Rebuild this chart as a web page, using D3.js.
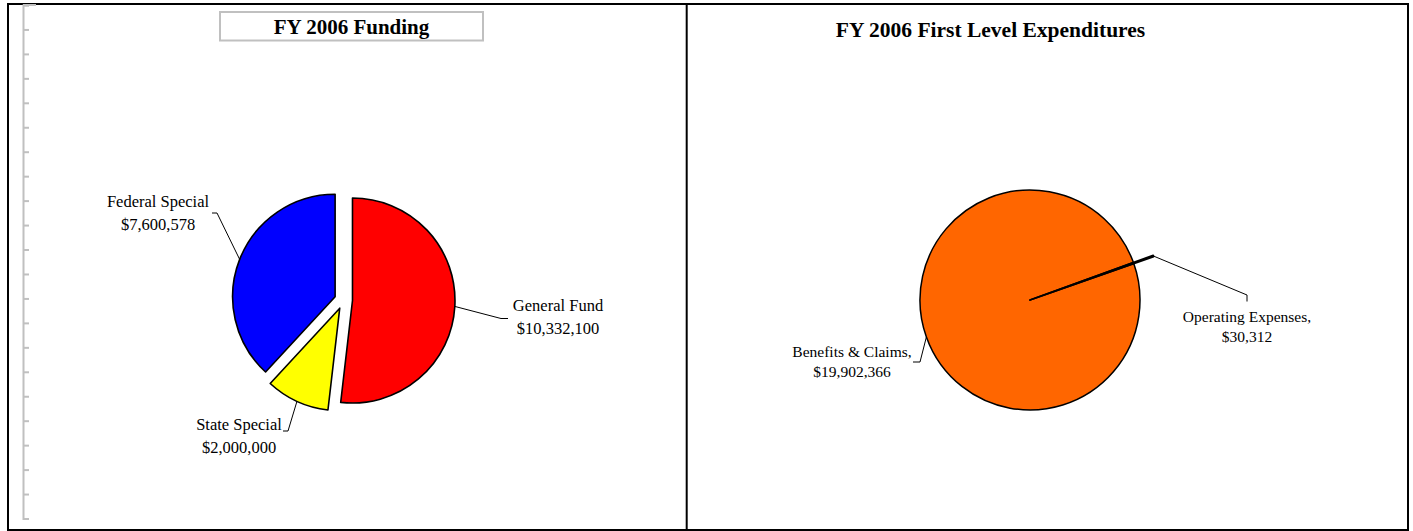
<!DOCTYPE html>
<html>
<head>
<meta charset="utf-8">
<script src="https://cdnjs.cloudflare.com/ajax/libs/d3/7.8.5/d3.min.js"></script>
<style>
  html, body { margin: 0; padding: 0; background: #fff; }
  svg { display: block; }
  text { font-family: "Liberation Serif", "Times New Roman", serif; fill: #000; }
</style>
</head>
<body>
<svg id="chart" width="1413" height="531"></svg>
<script>
// FY 2006 funding sources
const fundingNames  = ["General Fund", "State Special", "Federal Special"];
const fundingValues = [10332100, 2000000, 7600578];
const fundingColors = ["#FF0000", "#FFFF00", "#0000FF"];

// FY 2006 first level expenditures
const expenseNames  = ["Operating Expenses", "Benefits & Claims"];
const expenseValues = [30312, 19902366];
const expenseColors = ["#000000", "#FF6600"];

// gray ruler tick indexes along the left edge
const rulerTicks = d3.range(0, 22);

const fmt = d3.format("$,");
const svg = d3.select("#chart");
const deg = Math.PI / 180;

// ---- frame ----
svg.append("rect").attr("x", 8).attr("y", 4).attr("width", 1400).attr("height", 526)
  .attr("fill", "none").attr("stroke", "#000").attr("stroke-width", 2);
svg.append("line").attr("x1", 686.7).attr("x2", 686.7).attr("y1", 4).attr("y2", 530)
  .attr("stroke", "#000").attr("stroke-width", 2);

// ---- gray ruler at the left ----
const rulerY = d3.scaleLinear().domain([0, 21]).range([5, 518.5]);
const ruler = svg.append("g").attr("transform", "translate(23,0)")
  .call(d3.axisRight(rulerY).tickValues(rulerTicks).tickSize(6).tickSizeOuter(6).tickFormat(""));
ruler.selectAll("path, line").attr("stroke", "#c0c0c0").attr("stroke-width", 2);
svg.append("line").attr("x1", 23).attr("x2", 36).attr("y1", 5).attr("y2", 5)
  .attr("stroke", "#c0c0c0").attr("stroke-width", 2);

// ---- left chart: funding ----
svg.append("rect").attr("x", 220).attr("y", 12).attr("width", 263).attr("height", 28.5)
  .attr("fill", "#fff").attr("stroke", "#c0c0c0").attr("stroke-width", 2);
svg.append("text").attr("x", 351.5).attr("y", 34).attr("text-anchor", "middle")
  .attr("font-size", 21).attr("font-weight", "bold").text("FY 2006 Funding");

const fundCx = 343.5, fundCy = 300, fundR = 102.5, fundExplode = 9;
const fundPie = d3.pie().sort(null).value(d => d.value).startAngle(0).endAngle(2 * Math.PI);
const fundData = fundPie(fundingNames.map((n, i) => ({ name: n, value: fundingValues[i], color: fundingColors[i] })));
const fundArc = d3.arc().innerRadius(0).outerRadius(fundR);

const fundG = svg.append("g").attr("transform", `translate(${fundCx},${fundCy})`);
fundG.selectAll("path").data(fundData).join("path")
  .attr("d", fundArc)
  .attr("transform", d => {
    const a = (d.startAngle + d.endAngle) / 2;
    return `translate(${fundExplode * Math.sin(a)},${-fundExplode * Math.cos(a)})`;
  })
  .attr("fill", d => d.data.color)
  .attr("stroke", "#000").attr("stroke-width", 1.6).attr("stroke-linejoin", "round");

// label placement: text centre, elbow point, tail end, line height
const fundLabels = {
  "General Fund":    { x: 558, y: 311, elbow: [501, 318.5], tail: [508, 318.5], lh: 22.5 },
  "State Special":   { x: 239, y: 430, elbow: [288, 431],   tail: [283, 431],   lh: 22.5 },
  "Federal Special": { x: 158, y: 207, elbow: [217, 213],   tail: [212, 213],   lh: 22.5 }
};
fundData.forEach(d => {
  const a = (d.startAngle + d.endAngle) / 2;
  const rr = fundR + fundExplode;
  const p0 = [fundCx + rr * Math.sin(a), fundCy - rr * Math.cos(a)];
  const L = fundLabels[d.data.name];
  svg.append("path")
    .attr("d", d3.line()([p0, L.elbow, L.tail]))
    .attr("fill", "none").attr("stroke", "#000").attr("stroke-width", 1);
  const t = svg.append("text").attr("text-anchor", "middle").attr("font-size", 16.5);
  t.append("tspan").attr("x", L.x).attr("y", L.y).text(d.data.name);
  t.append("tspan").attr("x", L.x).attr("y", L.y + L.lh).text(fmt(d.data.value));
});

// ---- right chart: expenditures ----
svg.append("text").attr("x", 990.5).attr("y", 37).attr("text-anchor", "middle")
  .attr("font-size", 21.5).attr("font-weight", "bold").text("FY 2006 First Level Expenditures");

const expCx = 1030, expCy = 300, expR = 110, expPull = 21;
const expStart = 70.1 * deg;
const expPie = d3.pie().sort(null).value(d => d.value).startAngle(expStart).endAngle(expStart + 2 * Math.PI);
const expData = expPie(expenseNames.map((n, i) => ({ name: n, value: expenseValues[i], color: expenseColors[i] })));
const expOuter = d => d.data.name === "Operating Expenses" ? expR + expPull : expR;
const expArc = d3.arc().innerRadius(0).outerRadius(expOuter);

const expG = svg.append("g").attr("transform", `translate(${expCx},${expCy})`);
// large slice first so the thin slice sits on top
expG.selectAll("path").data(expData.slice().reverse()).join("path")
  .attr("d", expArc)
  .attr("fill", d => d.data.color)
  .attr("stroke", "#000")
  .attr("stroke-width", d => d.data.name === "Operating Expenses" ? 1.8 : 1.5)
  .attr("stroke-linejoin", "round");

const expLabels = {
  "Operating Expenses": { x: 1247, y: 322, elbow: [1247, 295], tail: [1247, 301.5], lh: 20 },
  "Benefits & Claims":  { x: 852,  y: 357, elbow: [920, 362],  tail: [913, 362],   lh: 20 }
};
expData.forEach(d => {
  const a = (d.startAngle + d.endAngle) / 2;
  const rr = expOuter(d);
  const p0 = [expCx + rr * Math.sin(a), expCy - rr * Math.cos(a)];
  const L = expLabels[d.data.name];
  svg.append("path")
    .attr("d", d3.line()([p0, L.elbow, L.tail]))
    .attr("fill", "none").attr("stroke", "#000").attr("stroke-width", 1);
  const t = svg.append("text").attr("text-anchor", "middle").attr("font-size", 15.5);
  t.append("tspan").attr("x", L.x).attr("y", L.y).text(d.data.name + ",");
  t.append("tspan").attr("x", L.x).attr("y", L.y + L.lh).text(fmt(d.data.value));
});
</script>
</body>
</html>
